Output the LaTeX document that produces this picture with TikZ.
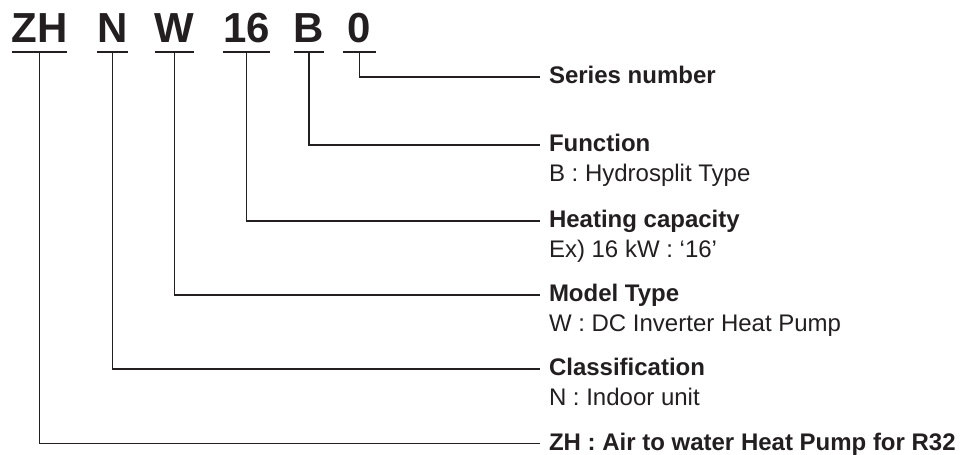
\documentclass[tikz,border=0pt]{standalone}
\usepackage{fontspec}
\setmainfont{Liberation Sans}
\usepackage{tikz}
\usetikzlibrary{positioning}
\definecolor{CodeInk}{HTML}{231F20}

\begin{document}
\begin{tikzpicture}[
        x=1pt, y=-1pt,
        code/.style={font=\fontsize{42}{42}\selectfont\bfseries, text=CodeInk, anchor=base, inner xsep=0pt, inner ysep=9.5pt, outer sep=0pt},
        title/.style={font=\fontsize{24}{24}\selectfont\bfseries, text=CodeInk, anchor=west, inner sep=0pt, outer sep=0pt, text height=13pt, text depth=0pt},
        sub/.style={font=\fontsize{24}{24}\selectfont, text=CodeInk, anchor=base west, inner sep=0pt, outer sep=0pt},
        uline/.style={draw=CodeInk, line width=2pt},
        lead/.style={draw=CodeInk, line width=1.3pt}
    ]
        \useasboundingbox (0,0) rectangle (970,455);

        % model code letters
        \node[code] (zh) at (39.5, 42.5) {ZH};
        \node[code] (n) at (112.5, 42.5) {N};
        \node[code] (w) at (174.5, 42.5) {W};
        \node[code] (cap) at (246.5, 42.5) {16};
        \node[code] (fn) at (309, 42.5) {B};
        \node[code, minimum width=33pt] (ser) at (359.5, 42.5) {0};

        \foreach \c in {zh, n, w, cap, fn, ser}
            \draw[uline] (\c.south west) -- (\c.south east);

        % meanings
        \node[title] (tser) at (549, 77) {Series number};
        \node[title] (tfn) at (549, 145) {Function};
        \node[sub] (sfn) at (549, 181.5) {B : Hydrosplit Type};
        \node[title] (tcap) at (549, 221) {Heating capacity};
        \node[sub] (scap) at (549, 257.5) {Ex) 16 kW : ‘16’};
        \node[title] (tw) at (549, 295) {Model Type};
        \node[sub] (sw) at (549, 331.5) {W : DC Inverter Heat Pump};
        \node[title] (tn) at (549, 369) {Classification};
        \node[sub] (sn) at (549, 405.5) {N : Indoor unit};
        \node[title] (tzh) at (549, 443.5) {ZH : Air to water Heat Pump for R32};

        \foreach \c in {zh, n, w, cap, fn, ser}
            \draw[lead] (\c.south) |- ([xshift=-9pt]t\c.west);
    \end{tikzpicture}
\end{document}
